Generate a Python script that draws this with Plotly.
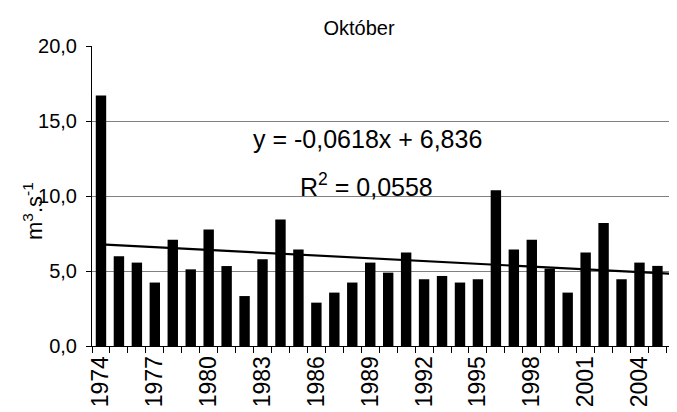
import plotly.graph_objects as go

years = list(range(1974, 2007))
discharge = [16.7, 5.98, 5.56, 4.23, 7.09, 5.11, 7.76, 5.33, 3.33, 5.78, 8.43,
             6.43, 2.89, 3.56, 4.23, 5.56, 4.89, 6.23, 4.45, 4.67, 4.23, 4.45,
             10.38, 6.43, 7.09, 5.16, 3.56, 6.23, 8.2, 4.45, 5.56, 5.34, 3.78]
tick_years = list(range(1974, 2007, 3))
y_ticks = [0, 5, 10, 15, 20]
trend_slope = -0.0618
trend_intercept = 6.836
title_text = "Október"
eq_text = "y = -0,0618x + 6,836"
r2_text = "R<sup>2</sup> = 0,0558"

trend_x = [years[0], years[-1]]
trend_y = [trend_intercept + trend_slope * (i + 1) for i in (0, len(years) - 1)]

FONT = "Liberation Sans, Arial, sans-serif"
OFF = 8  # observed offset of the plot area

W, H = 677, 412

fig = go.Figure()
fig.add_trace(go.Bar(x=years, y=discharge, marker=dict(color="black", line=dict(width=0)),
                     width=0.58, showlegend=False))
fig.add_trace(go.Scatter(x=trend_x, y=trend_y, mode="lines",
                         line=dict(color="black", width=2.2), showlegend=False))

fig.update_layout(
    width=W, height=H,
    margin=dict(l=92 - OFF, r=OFF, t=46 - OFF, b=H - (46 - OFF) - 300, autoexpand=False),
    paper_bgcolor="white", plot_bgcolor="white",
    separators=", ",
    font=dict(family=FONT, color="black"),
    title=dict(text=title_text, x=(359 - OFF) / W, xanchor="center", y=1 - (28 - OFF) / H,
               yanchor="middle", yref="container", font=dict(size=20, family=FONT)),
    bargap=0.4,
)
fig.update_xaxes(
    range=[1973.5, 2006.09], automargin=False,
    tickmode="array", tickvals=tick_years, ticktext=[str(y) for y in tick_years],
    tickangle=-90, tickfont=dict(size=23, family=FONT),
    ticks="", showgrid=False, zeroline=False,
    showline=True, linecolor="black", linewidth=1,
    minor=dict(tickmode="linear", tick0=1973.5, dtick=1, ticks="outside",
               ticklen=6, tickcolor="black", tickwidth=1, showgrid=False),
)
fig.update_yaxes(
    range=[0, 20], automargin=False, tickmode="array", tickvals=y_ticks, tickformat=".1f",
    tickfont=dict(size=20, family=FONT), ticklabelstandoff=5,
    ticks="outside", ticklen=5, tickcolor="black",
    showgrid=True, gridcolor="#808080", gridwidth=1.2,
    zeroline=False, showline=True, linecolor="black", linewidth=1,
)

fig.add_annotation(text=eq_text, xref="paper", yref="paper", x=(367 - 92) / 585,
                   y=(346 - 139) / 300, showarrow=False, xanchor="center",
                   yanchor="middle", font=dict(size=25, family=FONT))
fig.add_annotation(text=r2_text, xref="paper", yref="paper", x=(366 - 92) / 585,
                   y=(346 - 185) / 300, showarrow=False, xanchor="center",
                   yanchor="middle", font=dict(size=25, family=FONT))
fig.add_annotation(text="m<sup>3</sup>.s<sup>-1</sup>", xref="paper", yref="paper",
                   x=(33 - 92) / 585, y=(346 - 211) / 300, textangle=-90,
                   showarrow=False, xanchor="center", yanchor="middle",
                   font=dict(size=22, family=FONT))

fig.write_html("out.html")
